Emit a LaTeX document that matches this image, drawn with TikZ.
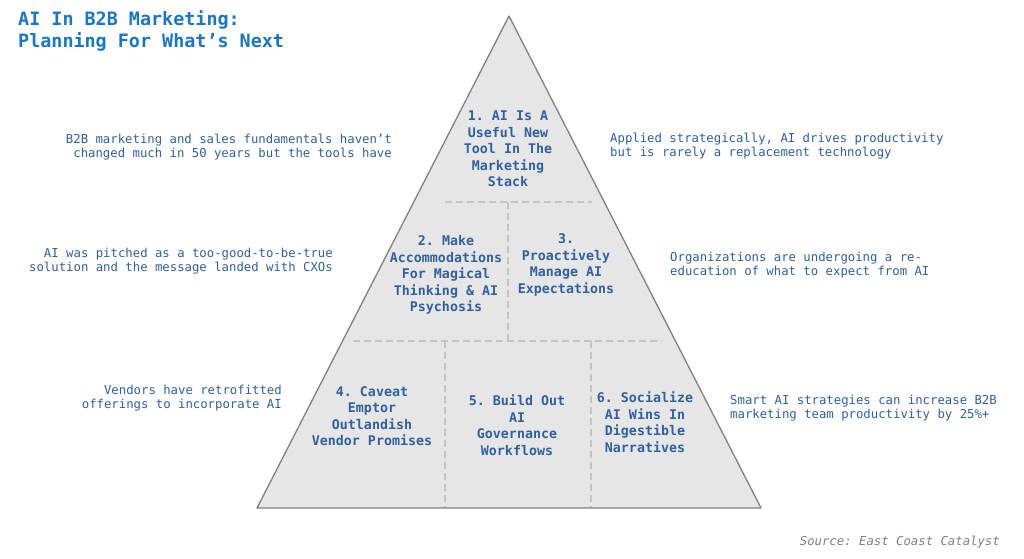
\documentclass[tikz,border=0pt]{standalone}
\usepackage{fontspec}
\setmonofont{DejaVu Sans Mono}
\usetikzlibrary{positioning}

\definecolor{titleblue}{RGB}{25,118,200}
\definecolor{textblue}{RGB}{47,96,160}
\definecolor{pyrfill}{RGB}{230,230,230}
\definecolor{pyredge}{RGB}{128,128,128}
\definecolor{tierline}{RGB}{196,196,196}

\tikzset{
  note/.style={font=\ttfamily\fontsize{12.3}{14.6}\selectfont, text=textblue, inner sep=0pt},
  tier/.style={font=\ttfamily\bfseries\fontsize{13.3}{16.5}\selectfont, text=textblue, align=center, inner sep=0pt},
  divider/.style={tierline, line width=1.2pt, dash pattern=on 7pt off 4pt}
}

\begin{document}
\begin{tikzpicture}[x=1pt, y=-1pt]
      \useasboundingbox (0, 0) rectangle (1024, 558);

      % pyramid
      \fill[pyrfill] (509, 16) -- (761, 508) -- (257, 508) -- cycle;
      \draw[divider] (445, 202) -- (592, 202);
      \draw[divider] (508, 202) -- (508, 341);
      \draw[divider] (353, 341) -- (662, 341);
      \draw[divider] (445, 341) -- (445, 508);
      \draw[divider] (591, 341) -- (591, 508);
      \draw[pyredge, line width=1.3pt, line join=round] (509, 16) -- (761, 508) -- (257, 508) -- cycle;

      % title
      \node[font=\ttfamily\bfseries\fontsize{18.4}{22}\selectfont, text=titleblue, align=left, anchor=north west, inner sep=0pt]
        (title) at (18, 10) {AI In B2B Marketing:\\Planning For What’s Next};

      % tiers
      \node[tier] (t1) at (508, 149) {1. AI Is A\\Useful New\\Tool In The\\Marketing\\Stack};
      \node[tier] (t2) at (446, 275) {2. Make\\Accommodations\\For Magical\\Thinking \& AI\\Psychosis};
      \node[tier] (t3) at (566, 265) {3.\\Proactively\\Manage AI\\Expectations};
      \node[tier] (t4) at (372, 416) {4. Caveat\\Emptor\\Outlandish\\Vendor Promises};
      \node[tier] (t5) at (517, 425) {5. Build Out\\AI\\Governance\\Workflows};
      \node[tier] (t6) at (645, 422) {6. Socialize\\AI Wins In\\Digestible\\Narratives};

      % left notes
      \node[note, align=right, anchor=east] (n1) at (392, 147) {B2B marketing and sales fundamentals haven’t\\changed much in 50 years but the tools have};
      \node[note, align=right, anchor=east] (n2) at (333, 261) {AI was pitched as a too-good-to-be-true\\solution and the message landed with CXOs};
      \node[note, align=right, anchor=east] (n4) at (282, 398) {Vendors have retrofitted\\offerings to incorporate AI};

      % right notes
      \node[note, align=left, anchor=west] (n3) at (610, 146) {Applied strategically, AI drives productivity\\but is rarely a replacement technology};
      \node[note, align=left, anchor=west] (n5) at (670, 265) {Organizations are undergoing a re-\\education of what to expect from AI};
      \node[note, align=left, anchor=west] (n6) at (730, 408) {Smart AI strategies can increase B2B\\marketing team productivity by 25\%+};

      \node[font=\ttfamily\itshape\fontsize{12.3}{14.6}\selectfont, text=pyredge, anchor=east, inner sep=0pt]
        (source) at (1000, 542) {Source: East Coast Catalyst};
\end{tikzpicture}
\end{document}
